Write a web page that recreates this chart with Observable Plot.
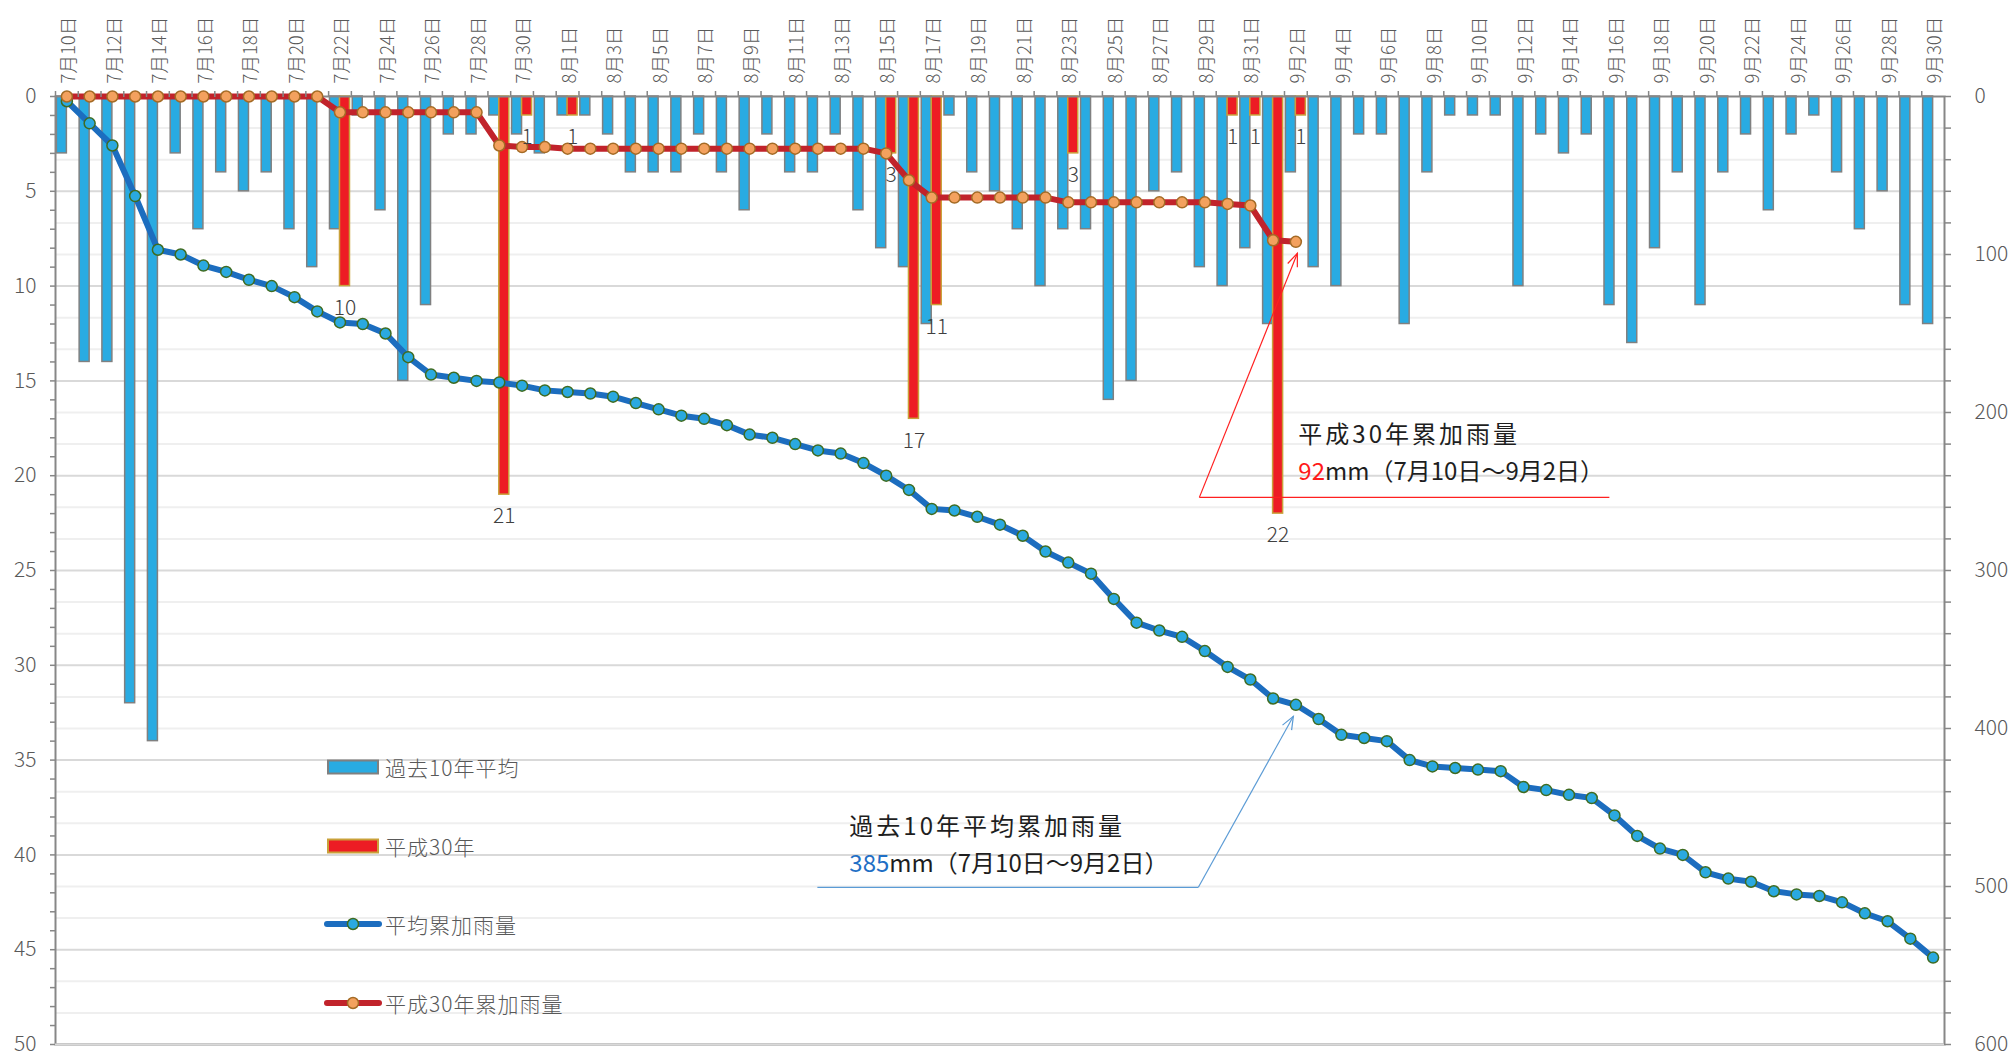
<!DOCTYPE html>
<html>
<head>
<meta charset="utf-8">
<script src="https://cdn.jsdelivr.net/npm/d3@7"></script>
<script src="https://cdn.jsdelivr.net/npm/@observablehq/plot@0.6"></script>
<style>
  html, body { margin: 0; padding: 0; background: #fff; overflow: hidden; }
  #chart svg { display: block; }
</style>
</head>
<body>
<div id="chart"></div>
<script>
// ---------- data ----------
const dates = [
  "7月10日","7月11日","7月12日","7月13日","7月14日","7月15日","7月16日","7月17日","7月18日","7月19日","7月20日",
  "7月21日","7月22日","7月23日","7月24日","7月25日","7月26日","7月27日","7月28日","7月29日","7月30日","7月31日",
  "8月1日","8月2日","8月3日","8月4日","8月5日","8月6日","8月7日","8月8日","8月9日","8月10日",
  "8月11日","8月12日","8月13日","8月14日","8月15日","8月16日","8月17日","8月18日","8月19日","8月20日",
  "8月21日","8月22日","8月23日","8月24日","8月25日","8月26日","8月27日","8月28日","8月29日","8月30日","8月31日",
  "9月1日","9月2日","9月3日","9月4日","9月5日","9月6日","9月7日","9月8日","9月9日","9月10日",
  "9月11日","9月12日","9月13日","9月14日","9月15日","9月16日","9月17日","9月18日","9月19日","9月20日",
  "9月21日","9月22日","9月23日","9月24日","9月25日","9月26日","9月27日","9月28日","9月29日","9月30日"
];
// 過去10年平均 (daily, mm)
const avgDaily = [
  3,14,14,32,34,3,7,4,5,4,7,9,7,1,6,15,11,2,2,1,2,3,
  1,1,2,4,4,4,2,4,6,2,4,4,2,6,8,9,12,1,4,5,7,10,7,7,16,15,5,4,9,10,8,
  12,4,9,10,2,2,12,4,1,1,1,10,2,3,2,11,13,8,4,11,4,2,6,2,1,4,7,5,11,12
];
// 平成30年 (daily, mm) 7/10〜9/2
const h30Daily = [
  0,0,0,0,0,0,0,0,0,0,0,0,10,0,0,0,0,0,0,21,1,0,
  1,0,0,0,0,0,0,0,0,0,0,0,0,0,3,17,11,0,0,0,0,0,3,0,0,0,0,0,0,1,1,
  22,1
];
// 平均累加雨量 (mm)
const avgCum = [
  3,17,31,63,97,100,107,111,116,120,127,136,143,144,150,165,176,178,180,181,183,186,
  187,188,190,194,198,202,204,208,214,216,220,224,226,232,240,249,261,262,266,271,278,288,295,302,318,333,338,342,351,361,369,
  381,385,394,404,406,408,420,424,425,426,427,437,439,442,444,455,468,476,480,491,495,497,503,505,506,510,517,522,533,545
];
// 平成30年累加雨量 (mm)
const h30Cum = [
  0,0,0,0,0,0,0,0,0,0,0,0,10,10,10,10,10,10,10,31,32,32,
  33,33,33,33,33,33,33,33,33,33,33,33,33,33,36,53,64,64,64,64,64,64,67,67,67,67,67,67,67,68,69,
  91,92
];
const leftTicks = [0,5,10,15,20,25,30,35,40,45,50];
const rightTicks = [0,100,200,300,400,500,600];
const rightMinor = [0,20,40,60,80,100,120,140,160,180,200,220,240,260,280,300,320,340,360,380,400,420,440,460,480,500,520,540,560,580,600];
const legendNames = ["過去10年平均", "平成30年", "平均累加雨量", "平成30年累加雨量"];
const annRedTitle = "平成30年累加雨量";
const annBlueTitle = "過去10年平均累加雨量";
const annPeriod = "mm（7月10日～9月2日）";

// ---------- tables ----------
const RATIO = 12; // right axis (600) / left axis (50)
const avg = dates.map((date, i) => ({date, v: avgDaily[i], cum: avgCum[i]}));
const h30 = h30Daily.map((v, i) => ({date: dates[i], v, cum: h30Cum[i]}));
const labelDates = dates.filter((d, i) => i % 2 === 0);

// ---------- layout ----------
const W = 2015, H = 1051, mL = 55, mR = 71, mT = 96, mB = 7;
const step = (W - mL - mR) / dates.length;
const FONT = '"Noto Sans CJK JP", "Noto Sans", sans-serif';
const GRAY = "#595959";

function overlay(index, scales, values, dims) {
  const xs = scales.x, ys = scales.y;
  const bw = xs.bandwidth ? xs.bandwidth() : 0;
  const cx = d => xs(d) + bw / 2;
  const g = d3.create("svg:g").attr("font-family", FONT).attr("text-anchor", "start");

  // legend
  const lx = 328, rows = [767, 846, 924, 1003];
  const lg = g.append("g");
  lg.append("rect").attr("x", lx).attr("y", rows[0] - 6.5).attr("width", 50).attr("height", 13)
    .attr("fill", "#29abe2").attr("stroke", "#808080").attr("stroke-width", 2);
  lg.append("rect").attr("x", lx).attr("y", rows[1] - 6.5).attr("width", 50).attr("height", 13)
    .attr("fill", "#ed1c24").attr("stroke", "#c9a13a").attr("stroke-width", 2);
  lg.append("line").attr("x1", lx - 1).attr("x2", lx + 51).attr("y1", rows[2]).attr("y2", rows[2])
    .attr("stroke", "#1c6dbf").attr("stroke-width", 6).attr("stroke-linecap", "round");
  lg.append("circle").attr("cx", lx + 25).attr("cy", rows[2]).attr("r", 5.5)
    .attr("fill", "#2aa9e0").attr("stroke", "#3f6b20").attr("stroke-width", 1.5);
  lg.append("line").attr("x1", lx - 1).attr("x2", lx + 51).attr("y1", rows[3]).attr("y2", rows[3])
    .attr("stroke", "#c1232b").attr("stroke-width", 6).attr("stroke-linecap", "round");
  lg.append("circle").attr("cx", lx + 25).attr("cy", rows[3]).attr("r", 5.5)
    .attr("fill", "#f3a15e").attr("stroke", "#a46b25").attr("stroke-width", 1.5);
  legendNames.forEach((name, i) => {
    lg.append("text").attr("x", lx + 57).attr("y", rows[i]).attr("dominant-baseline", "central")
      .attr("font-size", 21).attr("letter-spacing", "1px").attr("fill", GRAY).attr("font-weight", 300).text(name);
  });

  function arrow(x1, y1, x2, y2, color) {
    g.append("line").attr("x1", x1).attr("y1", y1).attr("x2", x2).attr("y2", y2)
      .attr("stroke", color).attr("stroke-width", 1.2);
    const a = Math.atan2(y2 - y1, x2 - x1), L = 14, s = 0.38;
    const p = ang => [x2 - L * Math.cos(ang), y2 - L * Math.sin(ang)];
    const [ax, ay] = p(a - s), [bx, by] = p(a + s);
    g.append("path").attr("d", `M${ax},${ay}L${x2},${y2}L${bx},${by}`)
      .attr("fill", "none").attr("stroke", color).attr("stroke-width", 1.2);
  }
  function ann(x, y, title, value, valueColor) {
    g.append("text").attr("x", x).attr("y", y).attr("dominant-baseline", "central")
      .attr("font-size", 24).attr("letter-spacing", "3px").attr("fill", "#1e1e1e").text(title);
    const t = g.append("text").attr("x", x).attr("y", y + 37).attr("dominant-baseline", "central")
      .attr("font-size", 24).attr("fill", "#1e1e1e");
    t.append("tspan").attr("fill", valueColor).text(value);
    t.append("tspan").text(annPeriod);
  }

  // 平成30年 annotation
  const last = h30.length - 1;
  const Px = cx(h30[last].date), Py = ys(h30[last].cum / RATIO);
  g.append("line").attr("x1", Px - 96).attr("x2", Px + 314).attr("y1", Py + 256).attr("y2", Py + 256)
    .attr("stroke", "#ff2020").attr("stroke-width", 1.2);
  arrow(Px - 96, Py + 256, Px + 2, Py + 12, "#ff2020");
  ann(Px + 3, Py + 191, annRedTitle, String(h30[last].cum), "#ff1a1a");

  // 過去10年平均 annotation
  const Qx = cx(avg[last].date), Qy = ys(avg[last].cum / RATIO);
  g.append("line").attr("x1", Qx - 478).attr("x2", Qx - 97).attr("y1", Qy + 183).attr("y2", Qy + 183)
    .attr("stroke", "#5b9bd5").attr("stroke-width", 1.2);
  arrow(Qx - 97, Qy + 183, Qx - 2, Qy + 12, "#5b9bd5");
  ann(Qx - 446, Qy + 120, annBlueTitle, String(avg[last].cum), "#1f6fc5");

  return g.node();
}

const chart = Plot.plot({
  width: W, height: H,
  marginTop: mT, marginBottom: mB, marginLeft: mL, marginRight: mR,
  style: {fontFamily: FONT, background: "#fff", overflow: "visible"},
  x: {type: "band", domain: dates, padding: 0},
  y: {domain: [0, 50], reverse: true},
  marks: [
    // gridlines
    Plot.ruleY(rightMinor.filter(v => v % 60 !== 0), {y: v => v / RATIO, stroke: "#efefef", strokeWidth: 2}),
    Plot.ruleY(leftTicks.slice(1), {stroke: "#d9d9d9", strokeWidth: 2}),
    // bars
    Plot.barY(avg, {x: "date", y: "v", fill: "#29abe2", stroke: "#808080", strokeWidth: 1.5,
      insetLeft: step / 2 - 10, insetRight: step / 2}),
    Plot.barY(h30.filter(d => d.v > 0), {x: "date", y: "v", fill: "#ed1c24", stroke: "#c9a13a", strokeWidth: 1.5,
      insetLeft: step / 2, insetRight: step / 2 - 10}),
    // frame / axis lines
    Plot.frame({stroke: "#878787", strokeWidth: 2}),
    Plot.ruleY([50], {stroke: "#d9d9d9", strokeWidth: 2}),
    // cumulative lines
    Plot.line(avg, {x: "date", y: d => d.cum / RATIO, stroke: "#1c6dbf", strokeWidth: 6, strokeLinejoin: "round"}),
    Plot.dot(avg, {x: "date", y: d => d.cum / RATIO, r: 5.5, fill: "#2aa9e0", stroke: "#3f6b20", strokeWidth: 1.5}),
    Plot.line(h30, {x: "date", y: d => d.cum / RATIO, stroke: "#c1232b", strokeWidth: 6, strokeLinejoin: "round"}),
    Plot.dot(h30, {x: "date", y: d => d.cum / RATIO, r: 5.5, fill: "#f3a15e", stroke: "#a46b25", strokeWidth: 1.5}),
    // data labels
    Plot.text(h30.filter(d => d.v > 0), {x: "date", y: "v", text: d => String(d.v), dx: 5, dy: 22,
      fontSize: 21, fill: "#404040", fontWeight: 300}),
    // left axis
    Plot.axisY({ticks: leftTicks, tickSize: 0, tickPadding: 19, fontSize: 21, color: GRAY, label: null, fontWeight: 300}),
    Plot.axisY({interval: 1, tickSize: 5, tickFormat: () => "", stroke: "#878787", strokeWidth: 1.5, label: null}),
    // right axis
    Plot.axisY({anchor: "right", ticks: rightTicks.map(v => v / RATIO), tickFormat: d => String(Math.round(d * RATIO)),
      tickSize: 0, tickPadding: 30, fontSize: 21, color: GRAY, label: null, fontWeight: 300, ariaLabel: "right-labels"}),
    Plot.axisY({anchor: "right", ticks: rightMinor.map(v => v / RATIO), tickSize: 6, tickFormat: () => "",
      stroke: "#878787", strokeWidth: 1.5, label: null}),
    // top axis
    Plot.axisX({anchor: "top", tickSize: 6, tickFormat: () => "", dx: -step / 2, stroke: "#878787", strokeWidth: 1.5, label: null}),
    Plot.text(labelDates, {x: d => d, frameAnchor: "top", rotate: -90, textAnchor: "start", dx: -5, dy: -13,
      fontSize: 18.5, fill: GRAY, fontWeight: 300, ariaLabel: "date-labels"}),
    overlay
  ]
});

d3.select(chart).selectAll('g[aria-label="date-labels"]').attr("letter-spacing", "2.6px");
document.getElementById("chart").appendChild(chart);
</script>
</body>
</html>
